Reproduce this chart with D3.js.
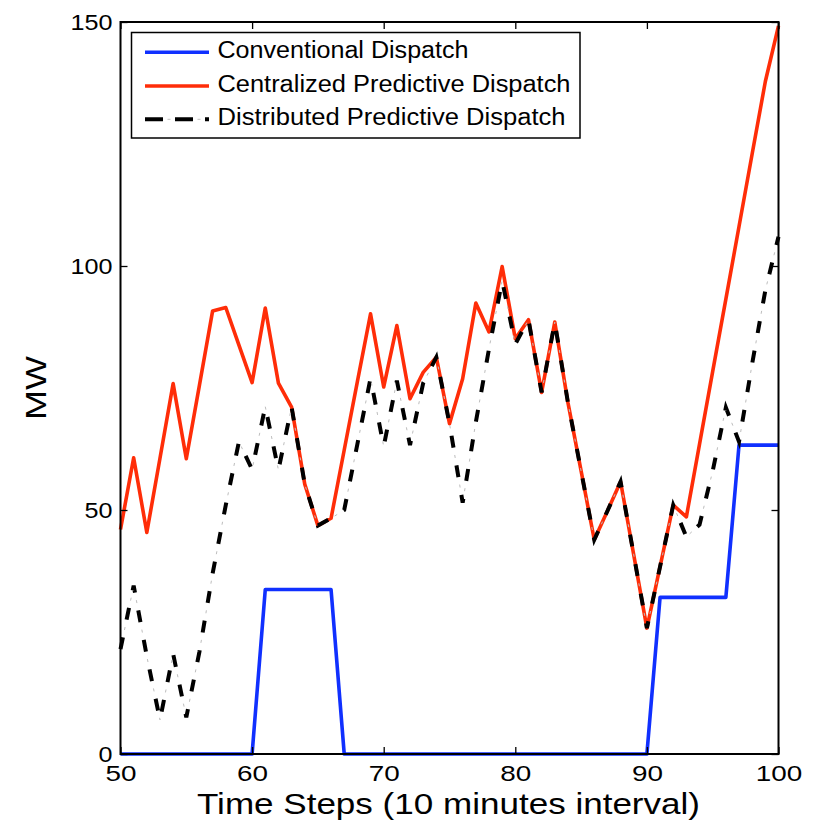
<!DOCTYPE html>
<html>
<head>
<meta charset="utf-8">
<script src="https://cdn.jsdelivr.net/npm/d3@7"></script>
<style>
  html, body { margin: 0; padding: 0; background: #fff; }
  svg { display: block; }
  text { font-family: "Liberation Sans", Arial, Helvetica, sans-serif; fill: #000; }
</style>
</head>
<body>
<svg id="chart" width="814" height="828"></svg>
<script>
// ---- data ----
const timeSteps = d3.range(50, 101);
const conventional = [
  0, 0, 0, 0, 0, 0, 0, 0, 0, 0, 0,            // 50-60
  33.7, 33.7, 33.7, 33.7, 33.7, 33.7,         // 61-66
  0, 0, 0, 0, 0, 0, 0, 0, 0, 0, 0, 0,          // 67-78
  0, 0, 0, 0, 0, 0, 0, 0, 0, 0, 0, 0,          // 79-90
  32.1, 32.1, 32.1, 32.1, 32.1, 32.1,          // 91-96
  63.3, 63.3, 63.3, 63.3                       // 97-100
];
const centralized = [
  46, 60.7, 45.4, 60.6, 75.9, 60.5, 75.6, 90.8, 91.5, 83.8,   // 50-59
  76.1, 91.4, 76, 71.1, 55.3, 46.8, 48.3, 62.3, 76.3, 90.2,   // 60-69
  75.2, 87.8, 72.8, 78.2, 81.3, 67.7, 76.9, 92.4, 86.5, 99.9, // 70-79
  85.1, 89, 74.1, 88.5, 72, 58, 43.9, 49.8, 55.8, 40.8,       // 80-89
  25.8, 38.4, 51, 48.6, 63.5, 78.4, 93.2, 108.1, 123, 137.8,  // 90-99
  149.2                                                       // 100
];
const distributed = [
  21.5, 34.5, 20, 7, 20.5, 7.5, 21, 37, 51, 64,               // 50-59
  58.3, 71.2, 58.2, 71.1, 55.3, 46.8, 48.3, 50, 63.5, 77,     // 60-69
  63, 76.5, 63.3, 76, 81.3, 67.7, 51.5, 68, 83, 97,           // 70-79
  84, 89, 74.1, 88.5, 72, 58, 43.9, 49.8, 55.8, 40.8,         // 80-89
  25.8, 38.4, 51, 44.5, 47, 58, 71, 64, 80, 95,               // 90-99
  106                                                         // 100
];
const seriesNames = ["Conventional Dispatch", "Centralized Predictive Dispatch", "Distributed Predictive Dispatch"];
const xTicks = [50, 60, 70, 80, 90, 100];
const yTicks = [0, 50, 100, 150];
const xLabel = "Time Steps (10 minutes interval)";
const yLabel = "MW";

// ---- layout ----
const m = { left: 120.5, top: 22, right: 814 - 778.5, bottom: 828 - 754 };
const W = 814 - m.left - m.right, H = 828 - m.top - m.bottom;
const svg = d3.select("#chart");
const g = svg.append("g").attr("transform", `translate(${m.left},${m.top})`);

const x = d3.scaleLinear().domain([50, 100]).range([0, W]);
const y = d3.scaleLinear().domain([0, 150]).range([H, 0]);

const BLUE = "#1030ff", RED = "#ff2d08";

// ---- lines ----
const mk = vals => timeSteps.map((t, i) => [t, vals[i]]);
const line = d3.line().x(d => x(d[0])).y(d => y(d[1]));

g.append("path").datum(mk(conventional)).attr("d", line)
  .attr("fill", "none").attr("stroke", BLUE).attr("stroke-width", 3.6).attr("stroke-linejoin", "round");
g.append("path").datum(mk(centralized)).attr("d", line)
  .attr("fill", "none").attr("stroke", RED).attr("stroke-width", 3.6).attr("stroke-linejoin", "round");
// dash-dot: black dashes + faint gray dots
g.append("path").datum(mk(distributed)).attr("d", line)
  .attr("fill", "none").attr("stroke", "#000").attr("stroke-width", 4)
  .attr("stroke-dasharray", "12,18").attr("stroke-linejoin", "miter");
g.append("path").datum(mk(distributed)).attr("d", line)
  .attr("fill", "none").attr("stroke", "#bdbdbd").attr("stroke-width", 1)
  .attr("stroke-dasharray", "3,27").attr("stroke-dashoffset", -19.5);

// ---- axes (inward ticks, box) ----
const tickLen = 7;
const xAxisB = d3.axisBottom(x).tickValues(xTicks).tickSizeInner(-tickLen).tickSizeOuter(0).tickPadding(11).tickFormat(d3.format("d"));
const xAxisT = d3.axisTop(x).tickValues(xTicks).tickSizeInner(-tickLen).tickSizeOuter(0).tickFormat("");
const yAxisL = d3.axisLeft(y).tickValues(yTicks).tickSizeInner(-tickLen).tickSizeOuter(0).tickPadding(8).tickFormat(d3.format("d"));
const yAxisR = d3.axisRight(y).tickValues(yTicks).tickSizeInner(-tickLen).tickSizeOuter(0).tickFormat("");

const axB = g.append("g").attr("transform", `translate(0,${H})`).call(xAxisB);
const axT = g.append("g").call(xAxisT);
const axL = g.append("g").call(yAxisL);
const axR = g.append("g").attr("transform", `translate(${W},0)`).call(yAxisR);
[axB, axT, axL, axR].forEach(a => {
  a.select(".domain").remove();
  a.selectAll(".tick line").attr("stroke", "#000").attr("stroke-width", 1.3);
  a.selectAll("text").attr("font-size", 22).attr("fill", "#000")
    .style("font-family", '"Liberation Sans", Arial, sans-serif');
});
axB.selectAll(".tick text").attr("dy", "0.71em")
  .attr("textLength", d => String(d).length * 15.5).attr("lengthAdjust", "spacingAndGlyphs");
axL.selectAll(".tick text").attr("dy", "0.36em")
  .attr("textLength", d => String(d).length * 14).attr("lengthAdjust", "spacingAndGlyphs");

g.append("rect").attr("x", 0).attr("y", 0).attr("width", W).attr("height", H)
  .attr("fill", "none").attr("stroke", "#000").attr("stroke-width", 2);

// ---- axis titles ----
svg.append("text").attr("x", (197 + 700) / 2).attr("y", 814).attr("text-anchor", "middle")
  .attr("font-size", 29).attr("textLength", 503).attr("lengthAdjust", "spacingAndGlyphs").text(xLabel);
svg.append("text").attr("transform", "translate(46,388) rotate(-90)").attr("text-anchor", "middle")
  .attr("font-size", 29).attr("textLength", 64).attr("lengthAdjust", "spacingAndGlyphs").text(yLabel);

// ---- legend ----
const lg = svg.append("g");
lg.append("rect").attr("x", 131.5).attr("y", 32.5).attr("width", 448.5).attr("height", 105.5)
  .attr("fill", "#fff").attr("stroke", "#000").attr("stroke-width", 1.5);
const rowsY = [52.3, 86, 119.3];
const textW = [251, 353, 348];
const colors = [BLUE, RED, "#000"];
seriesNames.forEach((name, i) => {
  const ly = rowsY[i];
  if (i < 2) {
    lg.append("line").attr("x1", 145).attr("x2", 209).attr("y1", ly).attr("y2", ly)
      .attr("stroke", colors[i]).attr("stroke-width", 3.6);
  } else {
    lg.append("line").attr("x1", 145).attr("x2", 209).attr("y1", ly).attr("y2", ly)
      .attr("stroke", "#000").attr("stroke-width", 4).attr("stroke-dasharray", "18,12");
    lg.append("line").attr("x1", 145).attr("x2", 209).attr("y1", ly).attr("y2", ly)
      .attr("stroke", "#bdbdbd").attr("stroke-width", 1).attr("stroke-dasharray", "3,27").attr("stroke-dashoffset", -22.5);
  }
  lg.append("text").attr("x", 217.5).attr("y", ly + 6).attr("font-size", 23)
    .attr("textLength", textW[i]).attr("lengthAdjust", "spacingAndGlyphs").text(name);
});
</script>
</body>
</html>
